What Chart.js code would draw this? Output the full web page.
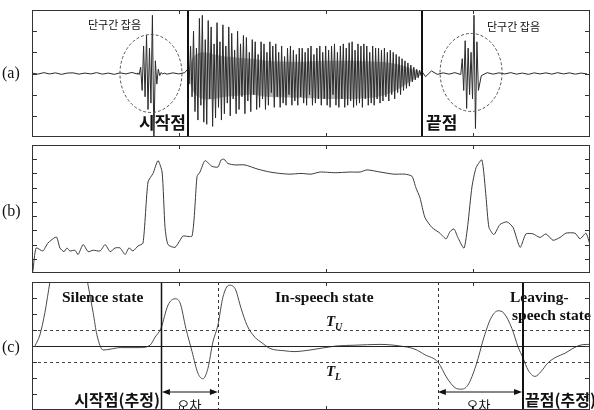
<!DOCTYPE html>
<html>
<head>
<meta charset="utf-8">
<script src="https://cdn.jsdelivr.net/npm/chart.js@4.4.1/dist/chart.umd.min.js"></script>
<style>
  html, body { margin: 0; padding: 0; background: #fff; width: 594px; height: 410px; overflow: hidden; }
  canvas { position: absolute; left: 0; }
</style>
</head>
<body>
<canvas id="chartA" width="594" height="141" style="top:0px"></canvas>
<canvas id="chartB" width="594" height="136" style="top:141px"></canvas>
<canvas id="chartC" width="594" height="136" style="top:277px"></canvas>
<script>
// x axis in 10 ms frames
const frameMax = 190;
const frameTicks = [50, 100, 150];

// (a) waveform, segments
const noiseLead = [0.02, -0.03, 0.04, -0.02, 0.03, -0.04, 0.02, 0.03, -0.03, 0.02, -0.02, 0.04, -0.03, 0.02, -0.04, 0.03, -0.02, 0.05, -0.03];
const burstStart = [0.03, -0.05, 0.3, -0.8, 1.3, -1.1, 1.8, -1.7, 1.2, -1.4, 2.75, -3.2, 0.6, -0.5, 0.2, -0.1, 0.05, -0.03, 0.02];
const noiseGap = [-0.03, 0.03, -0.02, 0.04];
const speech = [
  0.2, -0.5, 1.3, -1.1, 2.0, -1.8, 1.2, -2.2, 2.6, -1.5,
  2.75, -2.3, 1.6, -2.4, 2.5, -1.2, 2.2, -2.5, 1.4, -2.1,
  2.4, -1.6, 1.5, -2.2, 2.3, -1.9, 1.3, -1.4, 2.2, -2.0,
  1.9, -1.2, 1.1, -1.9, 2.0, -1.7, 1.4, -1.1, 1.8, -1.9,
  1.7, -1.3, 1.0, -1.8, 1.6, -1.0, 1.5, -1.7, 0.9, -1.6,
  1.5, -1.2, 1.4, -1.7, 1.0, -1.5, 1.5, -0.9, 1.3, -1.6,
  1.4, -1.1, 1.0, -1.6, 1.3, -1.4, 0.8, -1.5, 1.2, -1.0,
  1.3, -1.5, 1.1, -1.3, 0.9, -1.5, 1.2, -1.1, 1.2, -1.4,
  1.0, -1.5, 1.2, -1.0, 1.3, -1.5, 0.9, -1.4, 1.2, -1.2,
  1.3, -1.5, 1.0, -1.2, 1.3, -1.5, 1.1, -1.6, 1.3, -1.0,
  1.4, -1.5, 1.0, -1.6, 1.3, -1.2, 1.4, -1.6, 1.2, -1.5,
  1.45, -1.3, 1.5, -1.6, 1.1, -1.5, 1.4, -1.4, 1.3, -1.6,
  1.4, -1.2, 1.3, -1.5, 1.0, -1.4, 1.3, -1.5, 1.2, -1.2,
  1.2, -1.4, 1.1, -1.3, 1.2, -1.1, 1.0, -1.3, 1.1, -1.0,
  1.0, -1.2, 0.9, -0.9, 0.8, -1.0, 0.7, -0.8, 0.6, -0.7,
  0.5, -0.6, 0.4, -0.4, 0.3, -0.3, 0.2, -0.2, 0.15, -0.1,
  0.05
];
const noiseMid = [-0.15, 0.12, -0.04, 0.03, -0.03, 0.04];
const burstEnd = [-0.05, 0.7, -0.8, 1.55, -1.65, 1.2, -1.0, 1.0, -1.2, 2.75, -2.6, 1.5, -0.8];
const noiseTail = [-0.1, 0.04, -0.03, 0.03, -0.02, 0.04, -0.03, 0.02, -0.04, 0.03, -0.02, 0.03, -0.03, 0.04, -0.02, 0.03, -0.03, 0.02, -0.02];

// gray inner band of the speech part
const bandFrame = [53, 55, 58, 62, 66, 70, 75, 80, 90, 100, 110, 118, 124, 128, 131, 133];
const bandHi = [0, 0.8, 1.0, 0.9, 0.8, 0.75, 0.7, 0.6, 0.55, 0.6, 0.6, 0.55, 0.45, 0.3, 0.15, 0];
const bandLo = [0, -0.9, -1.2, -1.2, -1.1, -1.05, -1.0, -1.1, -1.15, -1.2, -1.2, -1.1, -0.8, -0.45, -0.2, 0];

// (b) feature curve
const bFrame = [0.3, 1.4, 3.7, 5.4, 7.8, 8.5, 9.5, 10.9, 11.9, 12.9, 14.6, 15.7, 17.4, 19.1, 20.8, 23.2, 24.9, 26.6, 28.3, 30.0,
  31.7, 33.0, 34.4, 36.1, 37.8, 39.5, 41.2, 42.9, 44.3, 45.3, 46.3, 48.7, 50.4, 51.4, 54.5, 56.2, 57.2, 58.9, 61.3, 63.3,
  64.4, 65.4, 66.7, 69.1, 72.5, 76.9, 81.0, 84.4, 87.8, 91.6, 95.0, 98.1, 103.2, 108.3, 111.7, 114.1, 118.5, 123.2, 127.0, 129.4,
  130.7, 132.1, 133.8, 136.2, 138.9, 141.0, 142.3, 143.7, 145.0, 147.1, 148.4, 149.8, 151.2, 153.2, 154.6, 155.6, 157.3, 159.3, 161.7, 163.8,
  166.2, 168.2, 170.6, 173.0, 175.0, 177.4, 179.8, 181.8, 184.9, 186.6, 188.6, 190.0];
const bLevel = [0.1, 1.76, 1.55, 2.1, 2.5, 2.5, 1.76, 1.5, 1.76, 1.55, 1.6, 1.3, 2.0, 1.5, 1.6, 1.55, 2.0, 1.5, 1.76, 1.76,
  1.3, 1.76, 1.55, 1.9, 2.1, 6.4, 7.0, 7.9, 7.1, 3.2, 2.0, 1.8, 2.3, 2.6, 2.6, 6.8, 7.1, 7.9, 7.5, 7.45,
  7.95, 8.0, 7.7, 7.6, 7.6, 7.3, 7.1, 7.0, 6.95, 7.0, 6.95, 7.1, 7.05, 7.1, 7.1, 7.25, 7.1, 6.95, 6.95, 6.8,
  6.0, 5.3, 3.9, 3.2, 2.8, 2.4, 2.9, 3.1, 2.5, 1.75, 3.4, 6.05, 7.4, 7.95, 5.35, 3.2, 2.7, 3.4, 3.6, 3.2,
  1.8, 2.75, 2.75, 2.5, 2.75, 2.3, 2.5, 2.8, 2.8, 2.4, 2.8, 2.0];

// (c) state curve
const cFrame = [1.0, 2.7, 4.4, 6.1, 7.8, 10.5, 12.6, 14.7, 17.4, 19.1, 20.8, 22.1, 24.2, 26.6, 30.0, 36.8, 40.2, 41.9, 43.9, 46.3,
  48.7, 50.4, 52.4, 54.5, 56.5, 58.2, 59.9, 61.6, 63.3, 65.0, 67.1, 69.1, 71.2, 73.2, 75.9, 78.3, 81.0, 86.1, 89.2, 94.7,
  103.5, 110.0, 118.5, 125.3, 130.4, 133.8, 138.2, 141.3, 144.0, 146.1, 148.4, 151.2, 153.9, 156.3, 158.7, 160.7, 163.4, 165.5, 167.2, 168.9,
  171.3, 173.3, 175.7, 178.4, 181.5, 184.2, 186.6, 189.3, 190];
const cLevel = [0, 0.7, 2.1, 4.0, 5.8, 7.5, 8, 7.5, 5.6, 3.8, 2.1, 0.7, -0.25, -0.2, -0.1, -0.1, 0.05, 0.55, 1.1, 2.55,
  2.95, 2.7, 1.1, -0.35, -1.7, -2.05, -1.4, 0.25, 1.3, 3.05, 3.8, 3.6, 2.35, 1.3, 0.55, 0.2, -0.15, -0.3, -0.35, -0.25,
  0, 0.05, 0.1, 0, -0.2, -0.55, -1.0, -2.0, -2.6, -2.7, -2.45, -1.2, 0.55, 1.75, 2.2, 2.05, 1.1, -0.05, -0.75, -1.5,
  -1.9, -1.6, -1.05, -0.7, -0.45, -0.15, 0.05, 0.1, 0.1];

// markers (frames)
const startTrue = 53.1, endTrue = 132.8;
const startEst = 43.9, startDash = 63.3, endDash = 138.2, endEst = 167.2;
const thresholdU = 1, thresholdL = -1;

function seg(start, step, vals) {
  return vals.map((v, i) => ({ x: start + i * step, y: v }));
}
function pairs(xs, ys) {
  return xs.map((v, i) => ({ x: v, y: ys[i] }));
}

const waveA = [].concat(
  seg(0, 2, noiseLead), seg(36, 0.5, burstStart), seg(46, 2, noiseGap),
  seg(53, 0.5, speech), seg(134, 2, noiseMid), seg(146, 0.5, burstEnd), seg(153, 2, noiseTail)
);

const KR = '"Noto Sans CJK KR", sans-serif';
const SERIF = '"Liberation Serif", "DejaVu Serif", serif';

function makeFrame(yTicks, overlay) {
  return {
    id: 'frame',
    afterDraw(chart) {
      const { ctx, chartArea: a, scales: { x, y } } = chart;
      ctx.save();
      if (overlay) overlay(ctx, x, y, a);
      ctx.strokeStyle = '#333';
      ctx.lineWidth = 1;
      ctx.setLineDash([]);
      ctx.strokeRect(a.left + 0.5, a.top + 0.5, a.right - a.left - 1, a.bottom - a.top - 1);
      ctx.beginPath();
      frameTicks.forEach(v => {
        const px = Math.round(x.getPixelForValue(v)) + 0.5;
        ctx.moveTo(px, a.top); ctx.lineTo(px, a.top + 4);
        ctx.moveTo(px, a.bottom); ctx.lineTo(px, a.bottom - 4);
      });
      yTicks.forEach(v => {
        const py = Math.round(y.getPixelForValue(v)) + 0.5;
        ctx.moveTo(a.left, py); ctx.lineTo(a.left + 5, py);
        ctx.moveTo(a.right, py); ctx.lineTo(a.right - 5, py);
      });
      ctx.stroke();
      ctx.restore();
    }
  };
}

function vline(ctx, x, a, v, width, dash, color) {
  const px = Math.round(x.getPixelForValue(v)) + (width % 2 ? 0.5 : 0);
  ctx.beginPath();
  ctx.lineWidth = width;
  ctx.strokeStyle = color || '#111';
  ctx.setLineDash(dash || []);
  ctx.moveTo(px, a.top); ctx.lineTo(px, a.bottom);
  ctx.stroke();
  ctx.setLineDash([]);
}

function hline(ctx, y, a, v, width, dash, color) {
  const py = Math.round(y.getPixelForValue(v)) + 0.5;
  ctx.beginPath();
  ctx.lineWidth = width;
  ctx.strokeStyle = color || '#111';
  ctx.setLineDash(dash || []);
  ctx.moveTo(a.left, py); ctx.lineTo(a.right, py);
  ctx.stroke();
  ctx.setLineDash([]);
}

function text(ctx, s, px, py, font, align) {
  ctx.font = font;
  ctx.fillStyle = '#111';
  ctx.textAlign = align || 'left';
  ctx.textBaseline = 'middle';
  ctx.fillText(s, px, py);
}

function arrow(ctx, x1, x2, py) {
  ctx.beginPath();
  ctx.lineWidth = 1;
  ctx.strokeStyle = '#111';
  ctx.moveTo(x1 + 4, py); ctx.lineTo(x2 - 4, py);
  ctx.stroke();
  ctx.fillStyle = '#111';
  ctx.beginPath();
  ctx.moveTo(x1, py); ctx.lineTo(x1 + 8, py - 3); ctx.lineTo(x1 + 8, py + 3); ctx.closePath();
  ctx.moveTo(x2, py); ctx.lineTo(x2 - 8, py - 3); ctx.lineTo(x2 - 8, py + 3); ctx.closePath();
  ctx.fill();
}

function baseOptions(ymin, ymax, padTop, padBottom) {
  return {
    responsive: false,
    animation: false,
    devicePixelRatio: 1,
    layout: { padding: { left: 32, right: 4, top: padTop, bottom: padBottom } },
    plugins: { legend: { display: false }, tooltip: { enabled: false } },
    elements: { point: { radius: 0 } },
    scales: {
      x: { type: 'linear', min: 0, max: frameMax, display: false },
      y: { min: ymin, max: ymax, display: false }
    }
  };
}

// (a)
new Chart(document.getElementById('chartA'), {
  type: 'line',
  data: {
    datasets: [
      { data: waveA, borderColor: '#2a2a2a', borderWidth: 1, tension: 0 },
      { data: pairs(bandFrame, bandHi), borderWidth: 0, borderColor: 'rgba(0,0,0,0)', fill: false, tension: 0.3 },
      { data: pairs(bandFrame, bandLo), borderWidth: 0, borderColor: 'rgba(0,0,0,0)', fill: '-1', backgroundColor: 'rgba(120,120,120,0.55)', tension: 0.3 }
    ]
  },
  options: baseOptions(-3, 3, 10, 4),
  plugins: [makeFrame([-2, -1, 0, 1, 2], (ctx, x, y, a) => {
    text(ctx, '(a)', 2, 74, '16px ' + SERIF);
    ctx.strokeStyle = '#555';
    ctx.lineWidth = 1;
    ctx.setLineDash([3, 2]);
    ctx.beginPath();
    ctx.ellipse(x.getPixelForValue(40.5), y.getPixelForValue(0), 31, 39, 0, 0, Math.PI * 2);
    ctx.stroke();
    ctx.beginPath();
    ctx.ellipse(x.getPixelForValue(149.5), y.getPixelForValue(0.05), 31, 39, 0, 0, Math.PI * 2);
    ctx.stroke();
    ctx.setLineDash([]);
    vline(ctx, x, a, startTrue, 2);
    vline(ctx, x, a, endTrue, 2);
    text(ctx, '단구간 잡음', 88, 25, '11px ' + KR);
    text(ctx, '단구간 잡음', 487, 27, '11px ' + KR);
    text(ctx, '시작점', 186, 123, 'bold 17px ' + KR, 'right');
    text(ctx, '끝점', 426, 123, 'bold 17px ' + KR);
  })]
});

// (b)
new Chart(document.getElementById('chartB'), {
  type: 'line',
  data: {
    datasets: [
      { data: pairs(bFrame, bLevel), borderColor: '#3a3a3a', borderWidth: 1, tension: 0.2 }
    ]
  },
  options: baseOptions(0, 9, 4, 4),
  plugins: [makeFrame([1, 2, 3, 4, 5, 6, 7, 8], (ctx) => {
    text(ctx, '(b)', 2, 71, '16px ' + SERIF);
  })]
});

// (c)
new Chart(document.getElementById('chartC'), {
  type: 'line',
  data: {
    datasets: [
      { data: pairs(cFrame, cLevel), borderColor: '#4a4a4a', borderWidth: 1, cubicInterpolationMode: 'monotone' }
    ]
  },
  options: baseOptions(-4, 4, 5, 3),
  plugins: [makeFrame([-3, -2, -1, 0, 1, 2, 3], (ctx, x, y, a) => {
    text(ctx, '(c)', 2, 71, '16px ' + SERIF);
    hline(ctx, y, a, 0, 1, [], '#222');
    hline(ctx, y, a, thresholdU, 1, [3, 3], '#444');
    hline(ctx, y, a, thresholdL, 1, [3, 3], '#444');
    const stateFont = 'bold 15.5px ' + SERIF;
    text(ctx, 'Silence state', 62, 21, stateFont);
    text(ctx, 'In-speech state', 275, 21, stateFont);
    text(ctx, 'Leaving-', 510, 21, stateFont);
    text(ctx, 'speech state', 512, 39, stateFont);
    text(ctx, 'T', 326, 45, 'italic bold 15px ' + SERIF);
    text(ctx, 'U', 335, 50, 'italic bold 10px ' + SERIF);
    text(ctx, 'T', 326, 95, 'italic bold 15px ' + SERIF);
    text(ctx, 'L', 335, 100, 'italic bold 10px ' + SERIF);
    vline(ctx, x, a, startEst, 1.5);
    vline(ctx, x, a, startDash, 1, [3, 3], '#333');
    vline(ctx, x, a, endDash, 1, [3, 3], '#333');
    vline(ctx, x, a, endEst, 2);
    const s0 = x.getPixelForValue(startEst), s1 = x.getPixelForValue(startDash);
    const e0 = x.getPixelForValue(endDash), e1 = x.getPixelForValue(endEst);
    arrow(ctx, s0 + 1, s1, 115);
    arrow(ctx, e0, e1 - 1, 115);
    text(ctx, '오차', (s0 + s1) / 2, 128, '13px ' + KR, 'center');
    text(ctx, '오차', (e0 + e1) / 2 - 2, 128, '13px ' + KR, 'center');
    text(ctx, '시작점(추정)', s0 - 1, 123, 'bold 16px ' + KR, 'right');
    text(ctx, '끝점(추정)', e1 + 2, 123, 'bold 16px ' + KR);
  })]
});
</script>
</body>
</html>
